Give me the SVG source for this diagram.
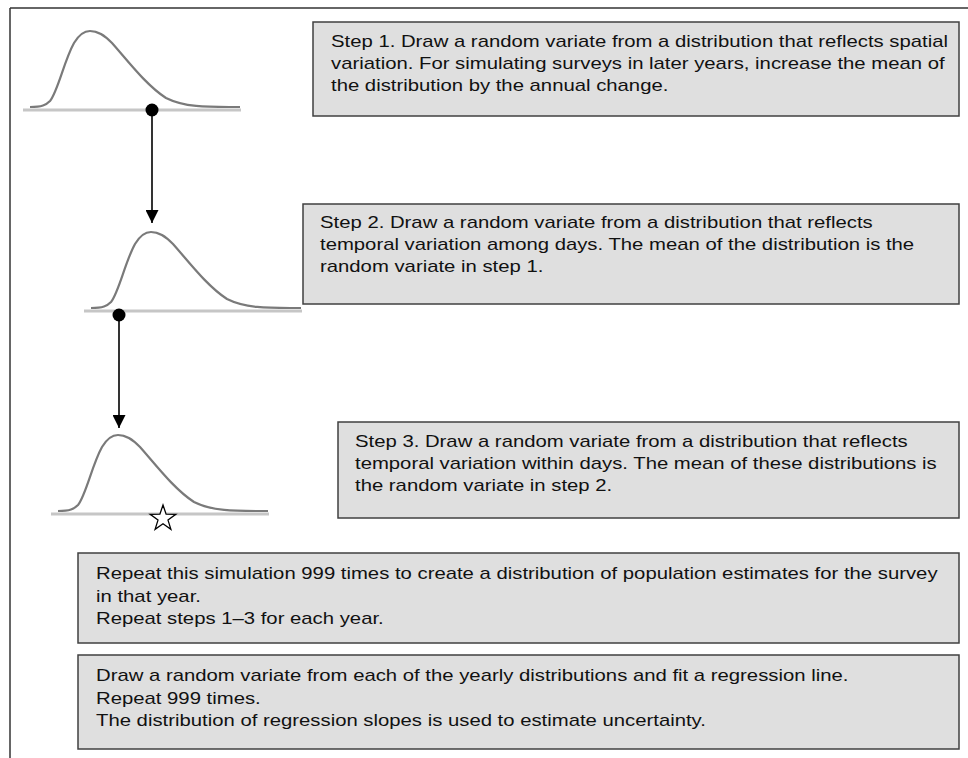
<svg xmlns="http://www.w3.org/2000/svg" width="968" height="758" viewBox="0 0 968 758">
<style>
.box{fill:#dfdfdf;stroke:#404040;stroke-width:1.5}
.t{font-family:"Liberation Sans",Arial,sans-serif;font-size:17px;fill:#111}
.base{stroke:#c6c6c6;stroke-width:3;fill:none}
.curve{stroke:#7a7a7a;stroke-width:2.2;fill:none}
.conn{stroke:#000;stroke-width:1.6;fill:none}
</style>
<defs>
<marker id="arr" markerWidth="14" markerHeight="13" refX="13" refY="6.5" orient="auto" markerUnits="userSpaceOnUse">
<path d="M0,0 L13,6.5 L0,13 Z" fill="#000"/>
</marker>
<g id="dist">
<line class="base" x1="-67" y1="79" x2="151" y2="79"/>
<path class="curve" d="M -60,76 C -48,76 -44,74 -40,70 C -32,60 -26,30 -16,12 C -10,2 -5,0 0,0 C 8,0 14,4 22,12 C 38,30 56,54 76,67 C 96,77 120,76 150,76"/>
</g>
</defs>
<rect width="968" height="758" fill="#fff"/>
<g id="frame" stroke="#333" stroke-width="1.5" fill="none">
<line x1="10" y1="8" x2="968" y2="8"/>
<line x1="10" y1="8" x2="10" y2="758"/>
</g>
<g id="dist1"><use href="#dist" transform="translate(90,31)"/></g>
<g id="dist2"><use href="#dist" transform="translate(151,232)"/></g>
<g id="dist3"><use href="#dist" transform="translate(118,435)"/></g>
<g id="connectors">
<line class="conn" x1="152" y1="110" x2="152" y2="223" marker-end="url(#arr)"/>
<circle cx="152" cy="110" r="6.5" fill="#000"/>
<line class="conn" x1="119" y1="315" x2="119" y2="428" marker-end="url(#arr)"/>
<circle cx="119" cy="315" r="6.5" fill="#000"/>
</g>
<g id="star">
<path d="M163,505 L166.1,514.2 L175.8,514.3 L168.0,520.1 L170.9,529.4 L163,523.8 L155.1,529.4 L158.0,520.1 L150.2,514.3 L159.9,514.2 Z" fill="#fff" stroke="#000" stroke-width="1.3" stroke-linejoin="miter"/>
</g>
<g id="step1">
<rect class="box" x="313" y="22" width="646" height="94"/>
<text class="t" transform="translate(331,47) scale(1.194,1)">Step 1. Draw a random variate from a distribution that reflects spatial</text>
<text class="t" transform="translate(331,69) scale(1.194,1)">variation. For simulating surveys in later years, increase the mean of</text>
<text class="t" transform="translate(331,91) scale(1.194,1)">the distribution by the annual change.</text>
</g>
<g id="step2">
<rect class="box" x="303" y="204" width="656" height="100"/>
<text class="t" transform="translate(320,228) scale(1.194,1)">Step 2. Draw a random variate from a distribution that reflects</text>
<text class="t" transform="translate(320,250) scale(1.194,1)">temporal variation among days. The mean of the distribution is the</text>
<text class="t" transform="translate(320,272) scale(1.194,1)">random variate in step 1.</text>
</g>
<g id="step3">
<rect class="box" x="338" y="422" width="621" height="96"/>
<text class="t" transform="translate(355,447) scale(1.194,1)">Step 3. Draw a random variate from a distribution that reflects</text>
<text class="t" transform="translate(355,469) scale(1.194,1)">temporal variation within days. The mean of these distributions is</text>
<text class="t" transform="translate(355,491) scale(1.194,1)">the random variate in step 2.</text>
</g>
<g id="repeat">
<rect class="box" x="78" y="553" width="881" height="90"/>
<text class="t" transform="translate(96,579) scale(1.194,1)">Repeat this simulation 999 times to create a distribution of population estimates for the survey</text>
<text class="t" transform="translate(96,601.5) scale(1.194,1)">in that year.</text>
<text class="t" transform="translate(96,624) scale(1.194,1)">Repeat steps 1–3 for each year.</text>
</g>
<g id="regression">
<rect class="box" x="78" y="655" width="881" height="94"/>
<text class="t" transform="translate(96,681) scale(1.194,1)">Draw a random variate from each of the yearly distributions and fit a regression line.</text>
<text class="t" transform="translate(96,703.5) scale(1.194,1)">Repeat 999 times.</text>
<text class="t" transform="translate(96,726) scale(1.194,1)">The distribution of regression slopes is used to estimate uncertainty.</text>
</g>
</svg>
